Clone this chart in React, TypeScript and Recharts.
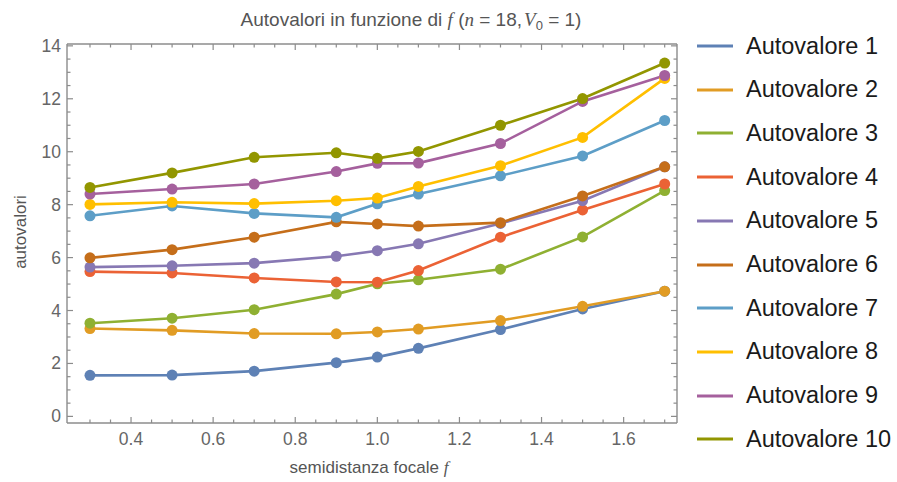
// Autovalori in funzione della semidistanza focale f, n = 18, V0 = 1
import { LineChart, Line, XAxis, YAxis } from 'recharts';

const fValues = [0.3, 0.5, 0.7, 0.9, 1.0, 1.1, 1.3, 1.5, 1.7];

const autovalore1 = [1.55, 1.56, 1.71, 2.03, 2.24, 2.57, 3.28, 4.06, 4.73];
const autovalore2 = [3.32, 3.25, 3.13, 3.12, 3.19, 3.3, 3.62, 4.16, 4.73];
const autovalore3 = [3.52, 3.71, 4.03, 4.62, 5.01, 5.16, 5.56, 6.78, 8.53];
const autovalore4 = [5.47, 5.42, 5.23, 5.08, 5.07, 5.51, 6.77, 7.8, 8.78];
const autovalore5 = [5.64, 5.69, 5.79, 6.05, 6.26, 6.52, 7.29, 8.15, 9.43];
const autovalore6 = [5.99, 6.3, 6.77, 7.35, 7.27, 7.19, 7.32, 8.33, 9.43];
const autovalore7 = [7.58, 7.95, 7.67, 7.52, 8.03, 8.4, 9.09, 9.84, 11.18];
const autovalore8 = [8.01, 8.09, 8.04, 8.15, 8.25, 8.69, 9.47, 10.54, 12.77];
const autovalore9 = [8.4, 8.59, 8.78, 9.25, 9.56, 9.57, 10.31, 11.9, 12.88];
const autovalore10 = [8.65, 9.2, 9.79, 9.96, 9.75, 10.01, 11.0, 12.01, 13.35];

const seriesNames = [
  'Autovalore 1',
  'Autovalore 2',
  'Autovalore 3',
  'Autovalore 4',
  'Autovalore 5',
  'Autovalore 6',
  'Autovalore 7',
  'Autovalore 8',
  'Autovalore 9',
  'Autovalore 10',
];
const seriesValues = [
  autovalore1,
  autovalore2,
  autovalore3,
  autovalore4,
  autovalore5,
  autovalore6,
  autovalore7,
  autovalore8,
  autovalore9,
  autovalore10,
];

// Mathematica default "97" palette
const seriesColors = [
  '#5e81b5',
  '#e19c24',
  '#8fb032',
  '#eb6235',
  '#8778b3',
  '#c56e1a',
  '#5d9ec7',
  '#ffbf00',
  '#a5609d',
  '#929600',
];

const xMajorTicks = [0.4, 0.6, 0.8, 1.0, 1.2, 1.4, 1.6];
const xMinorTicks = [
  0.3, 0.35, 0.45, 0.5, 0.55, 0.65, 0.7, 0.75, 0.85, 0.9, 0.95, 1.05, 1.1, 1.15, 1.25, 1.3,
  1.35, 1.45, 1.5, 1.55, 1.65, 1.7,
];
const yMajorTicks = [0, 2, 4, 6, 8, 10, 12, 14];
const yMinorTicks = [
  0.5, 1, 1.5, 2.5, 3, 3.5, 4.5, 5, 5.5, 6.5, 7, 7.5, 8.5, 9, 9.5, 10.5, 11, 11.5, 12.5, 13,
  13.5,
];

const data = fValues.map((f, i) => {
  const row: Record<string, number> = { f };
  seriesValues.forEach((vals, s) => {
    row[`a${s + 1}`] = vals[i];
  });
  return row;
});

const xTicks = [...xMajorTicks, ...xMinorTicks].sort((a, b) => a - b);
const yTicks = [...yMajorTicks, ...yMinorTicks].sort((a, b) => a - b);

const FRAME = '#8c8c8c';
const LABEL = '#666';
const SANS = '"Liberation Sans", Arial, sans-serif';
const SERIF = '"Liberation Serif", "Times New Roman", serif';

const isMajor = (v: number, list: number[]) => list.some((m) => Math.abs(m - v) < 1e-6);

/** Frame ticks point inward; only bottom/left carry labels */
function makeTick(side: 'bottom' | 'top' | 'left' | 'right') {
  return function FrameTick(props: any) {
    const { x, y, payload } = props;
    const v = payload.value as number;
    const major = side === 'bottom' || side === 'top' ? isMajor(v, xMajorTicks) : isMajor(v, yMajorTicks);
    const len = major ? 6 : 3.5;
    if (side === 'bottom') {
      return (
        <g>
          <line x1={x} y1={y} x2={x} y2={y - len} stroke={FRAME} strokeWidth={1.2} />
          {major && (
            <text x={x} y={y + 22} textAnchor="middle" fontSize={17.5} fill={LABEL} fontFamily={SANS}>
              {v.toFixed(1)}
            </text>
          )}
        </g>
      );
    }
    if (side === 'top') {
      return <line x1={x} y1={y} x2={x} y2={y + len} stroke={FRAME} strokeWidth={1.2} />;
    }
    if (side === 'left') {
      return (
        <g>
          <line x1={x} y1={y} x2={x + len} y2={y} stroke={FRAME} strokeWidth={1.2} />
          {major && (
            <text x={x - 6} y={y + 6} textAnchor="end" fontSize={17.5} fill={LABEL} fontFamily={SANS}>
              {v}
            </text>
          )}
        </g>
      );
    }
    return <line x1={x} y1={y} x2={x - len} y2={y} stroke={FRAME} strokeWidth={1.2} />;
  };
}

const axisCommon = {
  type: 'number' as const,
  tickSize: 0,
  tickMargin: 0,
  tickLine: false,
  interval: 0 as const,
  allowDataOverflow: true,
  axisLine: { stroke: FRAME, strokeWidth: 1.4 },
};

function Legend() {
  return (
    <div style={{ position: 'absolute', left: 697, top: 0 }}>
      {seriesNames.map((name, i) => (
        <div
          key={name}
          style={{
            position: 'absolute',
            left: 0,
            top: 46 + i * 43.7 - 16,
            height: 32,
            display: 'flex',
            alignItems: 'center',
            whiteSpace: 'nowrap',
          }}
        >
          <svg width={36} height={6} style={{ display: 'block' }}>
            <line x1={0} y1={3} x2={36} y2={3} stroke={seriesColors[i]} strokeWidth={3} />
          </svg>
          <span style={{ marginLeft: 13, fontFamily: SANS, fontSize: 23.5, color: '#1a1a1a' }}>{name}</span>
        </div>
      ))}
    </div>
  );
}

export default function App() {
  return (
    <div style={{ position: 'fixed', left: 0, top: 0, width: 897, height: 482, background: '#fff' }}>
      {/* axes are 1px thick so they still render; plot area spans 67..677 x 44..423 */}
      <LineChart width={897} height={482} data={data} margin={{ top: 43, right: 219, bottom: 58, left: 66 }}>
        <XAxis {...axisCommon} dataKey="f" xAxisId="bottom" orientation="bottom" height={1}
          domain={[0.244, 1.73]} ticks={xTicks} tick={makeTick('bottom')} />
        <XAxis {...axisCommon} dataKey="f" xAxisId="top" orientation="top" height={1}
          domain={[0.244, 1.73]} ticks={xTicks} tick={makeTick('top')} />
        <YAxis {...axisCommon} yAxisId="left" orientation="left" width={1}
          domain={[-0.25, 14.07]} ticks={yTicks} tick={makeTick('left')} />
        <YAxis {...axisCommon} yAxisId="right" orientation="right" width={1}
          domain={[-0.25, 14.07]} ticks={yTicks} tick={makeTick('right')} />
        {seriesNames.map((name, i) => (
          <Line
            key={name}
            xAxisId="bottom"
            yAxisId="left"
            type="linear"
            dataKey={`a${i + 1}`}
            name={name}
            stroke={seriesColors[i]}
            strokeWidth={2.6}
            dot={{ r: 5.5, fill: seriesColors[i], stroke: 'none' }}
            activeDot={false}
            isAnimationActive={false}
          />
        ))}
      </LineChart>
      <svg width={897} height={482} style={{ position: 'absolute', left: 0, top: 0, pointerEvents: 'none' }}>
        <text x={411} y={26} textAnchor="middle" fontSize={19} fill="#555" fontFamily={SANS}>
          Autovalori in funzione di{' '}
          <tspan fontFamily={SERIF} fontStyle="italic">f</tspan>
          {' ('}
          <tspan fontFamily={SERIF} fontStyle="italic">n</tspan>
          {' = 18,'}
          <tspan fontFamily={SERIF} fontStyle="italic" dx={2}>V</tspan>
          <tspan fontSize={13} dy={4}>0</tspan>
          <tspan dy={-4}>{' = 1)'}</tspan>
        </text>
        <text x={26} y={232} transform="rotate(-90 26 232)" textAnchor="middle" fontSize={17}
          fill="#555" fontFamily={SANS}>
          autovalori
        </text>
        <text x={369} y={473} textAnchor="middle" fontSize={17} fill="#555" fontFamily={SANS}>
          semidistanza focale <tspan fontFamily={SERIF} fontStyle="italic">f</tspan>
        </text>
      </svg>
      <Legend />
    </div>
  );
}
